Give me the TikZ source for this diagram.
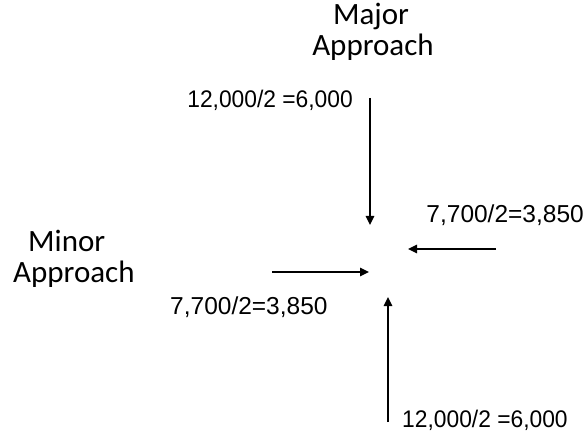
\documentclass[tikz,border=0pt]{standalone}
\usepackage{fontspec}
\setmainfont{Carlito}
\newfontfamily\numfont[FakeStretch=0.95]{Liberation Sans}
\newfontfamily\numfontb{Liberation Sans}
\usetikzlibrary{arrows.meta}
\tikzset{
  lbl/.style={inner sep=0pt, font=\fontsize{31}{31}\selectfont},
  num/.style={inner sep=0pt, font=\numfont\fontsize{24}{24}\selectfont},
  numb/.style={inner sep=0pt, font=\numfontb\fontsize{24.5}{24.5}\selectfont},
  flow/.style={line width=1.6pt, -{Triangle[length=9pt,width=8.5pt]}}
}
\begin{document}
\begin{tikzpicture}[x=1pt,y=-1pt]
\useasboundingbox (0,0) rectangle (588,435);
% titles
\node[lbl, anchor=base] (majA) at (371,25) {Major};
\node[lbl, anchor=base] (majB) at (373,56) {Approach};
\node[lbl, anchor=base west] (minA) at (28,252) {Minor};
\node[lbl, anchor=base west] (minB) at (13,283) {Approach};
% labels
\node[num, anchor=base east] (ntop) at (353,108) {12,000/2 =6,000};
\node[num, anchor=base west] (nbot) at (402,427) {12,000/2 =6,000};
\node[numb, anchor=base east] (nright) at (584,223) {7,700/2=3,850};
\node[numb, anchor=base west] (nleft) at (170,314) {7,700/2=3,850};
% arrow ends
\coordinate (ts) at (370,98);   \coordinate (te) at (370,225);
\coordinate (ls) at (272,272);  \coordinate (le) at (369,272);
\coordinate (rs) at (496,249);  \coordinate (re) at (408,249);
\coordinate (bs) at (388,422);  \coordinate (be) at (388,297);
\draw[flow] (ts) -- (te);
\draw[flow] (ls) -- (le);
\draw[flow] (rs) -- (re);
\draw[flow] (bs) -- (be);
\end{tikzpicture}
\end{document}
